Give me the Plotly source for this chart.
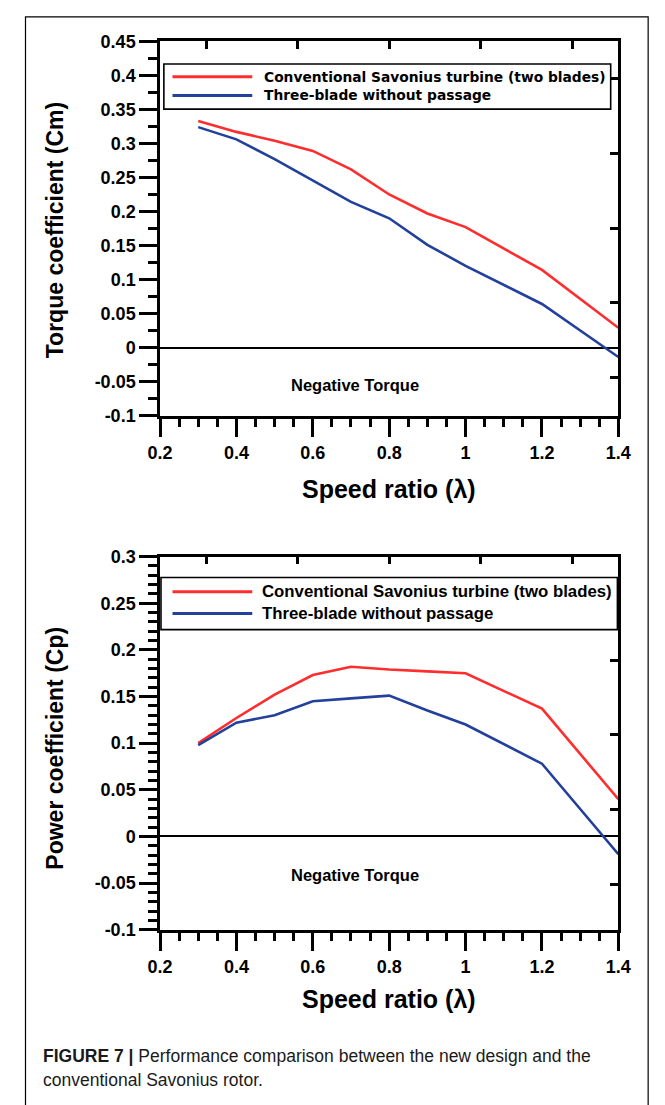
import plotly.graph_objects as go

# Data
speed_ratio = [0.3, 0.4, 0.5, 0.6, 0.7, 0.8, 0.9, 1.0, 1.2, 1.4]
cm_conventional = [0.333, 0.317, 0.304, 0.289, 0.262, 0.225, 0.197, 0.177, 0.114, 0.029]
cm_three_blade = [0.324, 0.306, 0.277, 0.245, 0.214, 0.190, 0.151, 0.120, 0.064, -0.014]
cp_conventional = [0.100, 0.127, 0.152, 0.173, 0.182, 0.179, 0.177, 0.175, 0.137, 0.040]
cp_three_blade = [0.098, 0.122, 0.130, 0.145, 0.148, 0.151, 0.135, 0.120, 0.078, -0.019]

series_names = ["Conventional Savonius turbine (two blades)", "Three-blade without passage"]

x_ticks = [0.2, 0.4, 0.6, 0.8, 1.0, 1.2, 1.4]
x_ticktext = ["0.2", "0.4", "0.6", "0.8", "1", "1.2", "1.4"]
cm_ticks = [0.45, 0.4, 0.35, 0.3, 0.25, 0.2, 0.15, 0.1, 0.05, 0, -0.05, -0.1]
cm_ticktext = ["0.45", "0.4", "0.35", "0.3", "0.25", "0.2", "0.15", "0.1", "0.05", "0", "-0.05", "-0.1"]
cp_ticks = [0.3, 0.25, 0.2, 0.15, 0.1, 0.05, 0, -0.05, -0.1]
cp_ticktext = ["0.3", "0.25", "0.2", "0.15", "0.1", "0.05", "0", "-0.05", "-0.1"]

# unlabeled ticks on the top / right frame edges
frame_top_ticks = [0.321, 0.560, 0.800, 1.040, 1.279]
cm_right_ticks = [0.396, 0.285, 0.175, 0.066, -0.044]
cp_right_ticks = [0.268, 0.189, 0.109, 0.029, -0.051]

RED = "#ff2d2d"
BLUE = "#23409a"
W, H = 665, 1105


def px(x):
    return x / W


def py(y):
    return 1 - y / H


bold = dict(family="Liberation Sans, Arial", color="black", weight="bold")

fig = go.Figure()

for xa, ya, conv, three in [("x", "y", cm_conventional, cm_three_blade),
                            ("x2", "y2", cp_conventional, cp_three_blade)]:
    fig.add_trace(go.Scatter(x=speed_ratio, y=conv, mode="lines", name=series_names[0],
                             line=dict(color=RED, width=2.6), xaxis=xa, yaxis=ya, showlegend=False))
    fig.add_trace(go.Scatter(x=speed_ratio, y=three, mode="lines", name=series_names[1],
                             line=dict(color=BLUE, width=2.6), xaxis=xa, yaxis=ya, showlegend=False))

# dummy traces so the frame axes get drawn
for xa, ya in [("x3", "y"), ("x", "y3"), ("x4", "y2"), ("x2", "y4")]:
    fig.add_trace(go.Scatter(x=[None], y=[None], xaxis=xa, yaxis=ya, showlegend=False, hoverinfo="skip"))

x_dom = [px(153), px(630)]
top_dom = [py(413), py(32)]
bot_dom = [py(936.7), py(556.7)]

xaxis_common = dict(
    domain=x_dom, range=[0.2, 1.4], tickvals=x_ticks, ticktext=x_ticktext,
    ticks="outside", ticklen=19, tickwidth=2.5, tickcolor="black",
    showline=True, linewidth=2.5, linecolor="black", showgrid=False, zeroline=False,
    minor=dict(dtick=0.05, tick0=0.2, ticks="outside", ticklen=9, tickwidth=2.5, tickcolor="black", showgrid=False),
    tickfont=dict(size=18, **bold),
)
yaxis_common = dict(
    ticks="outside", ticklen=18, tickwidth=2.5, tickcolor="black",
    showline=True, linewidth=2.5, linecolor="black", showgrid=False,
    zeroline=True, zerolinecolor="black", zerolinewidth=2.2,
    tickfont=dict(size=18, **bold),
)
frame_x = dict(range=[0.2, 1.4], side="top", tickvals=frame_top_ticks, ticks="inside", ticklen=8,
               tickwidth=2.5, tickcolor="black", showticklabels=False, showline=True, linewidth=2.5,
               linecolor="black", showgrid=False, zeroline=False)
frame_y = dict(side="right", ticks="inside", ticklen=9, tickwidth=2.5, tickcolor="black",
               showticklabels=False, showline=True, linewidth=2.5, linecolor="black",
               showgrid=False, zeroline=False)

fig.update_layout(
    width=W, height=H,
    margin=dict(l=0, r=0, t=0, b=0),
    paper_bgcolor="white", plot_bgcolor="white",
    xaxis=dict(anchor="y", **xaxis_common),
    yaxis=dict(anchor="x", domain=top_dom, range=[-0.1, 0.45], tickvals=cm_ticks, ticktext=cm_ticktext,
               minor=dict(dtick=0.025, tick0=0, ticks="outside", ticklen=9, tickwidth=2.5,
                          tickcolor="black", showgrid=False),
               **yaxis_common),
    xaxis2=dict(anchor="y2", **xaxis_common),
    yaxis2=dict(anchor="x2", domain=bot_dom, range=[-0.1, 0.3], tickvals=cp_ticks, ticktext=cp_ticktext,
                minor=dict(dtick=0.01, tick0=0, ticks="outside", ticklen=9, tickwidth=2.5,
                           tickcolor="black", showgrid=False),
                **yaxis_common),
    xaxis3=dict(overlaying="x", anchor="y", **frame_x),
    yaxis3=dict(overlaying="y", anchor="x", range=[-0.1, 0.45], tickvals=cm_right_ticks, **frame_y),
    xaxis4=dict(overlaying="x2", anchor="y2", **frame_x),
    yaxis4=dict(overlaying="y2", anchor="x2", range=[-0.1, 0.3], tickvals=cp_right_ticks, **frame_y),
    showlegend=False,
)

shapes = []
annotations = []

# outer frame (bottom edge runs off the page, as in the original crop)
shapes.append(dict(type="rect", xref="paper", yref="paper", x0=px(13), x1=px(661), y0=py(1140), y1=py(7),
                   line=dict(color="black", width=1.2)))

# hand-drawn legends (long line samples as in the original)
legends = [
    dict(box=(157, 55, 622, 101), rows=(68, 87), text_x=259,
         font=dict(family="DejaVu Sans", size=13.8, color="black", weight="bold")),
    dict(box=(154, 578, 629, 631), rows=(592.5, 614.5), text_x=257, font=dict(size=16.8, **bold)),
]
for lg in legends:
    x0, y0, x1, y1 = lg["box"]
    shapes.append(dict(type="rect", xref="paper", yref="paper", x0=px(x0), x1=px(x1), y0=py(y1), y1=py(y0),
                       line=dict(color="black", width=1.6), fillcolor="white", layer="above"))
    for name, color, ry in zip(series_names, [RED, BLUE], lg["rows"]):
        shapes.append(dict(type="line", xref="paper", yref="paper", x0=px(166), x1=px(249), y0=py(ry), y1=py(ry),
                           line=dict(color=color, width=3), layer="above"))
        annotations.append(dict(text=name, xref="paper", yref="paper", x=px(lg["text_x"]), y=py(ry),
                                xanchor="left", yanchor="middle", showarrow=False, font=lg["font"]))

# axis titles
for yc in (488, 1007):
    annotations.append(dict(text="Speed ratio (λ)", xref="paper", yref="paper", x=px(391), y=py(yc),
                            xanchor="center", yanchor="middle", showarrow=False, font=dict(size=25, **bold)))
for label, yc in (("Torque coefficient (Cm)", 224), ("Power coefficient (Cp)", 752)):
    annotations.append(dict(text=label, xref="paper", yref="paper", x=px(44), y=py(yc), textangle=-90,
                            xanchor="center", yanchor="middle", showarrow=False, font=dict(size=23, **bold)))

# "Negative Torque" labels
for xa, ya, yv in (("x", "y", -0.055), ("x2", "y2", -0.041)):
    annotations.append(dict(text="Negative Torque", xref=xa, yref=ya, x=0.71, y=yv, showarrow=False,
                            xanchor="center", yanchor="middle", font=dict(size=16.5, **bold)))

# caption
caption_font = dict(family="Liberation Sans, Arial", size=17.5, color="#1a1a1a")
annotations.append(dict(text="<b>FIGURE 7 |</b> Performance comparison between the new design and the",
                        xref="paper", yref="paper", x=px(29), y=py(1065), xanchor="left", yanchor="middle",
                        showarrow=False, font=caption_font))
annotations.append(dict(text="conventional Savonius rotor.", xref="paper", yref="paper", x=px(29), y=py(1090),
                        xanchor="left", yanchor="middle", showarrow=False, font=caption_font))

fig.update_layout(shapes=shapes, annotations=annotations)

# page has a default 8px body margin; drop it so the figure fills the window exactly
fig.write_html("out.html", config={"displayModeBar": False},
               post_script="document.body.style.margin='0';")
